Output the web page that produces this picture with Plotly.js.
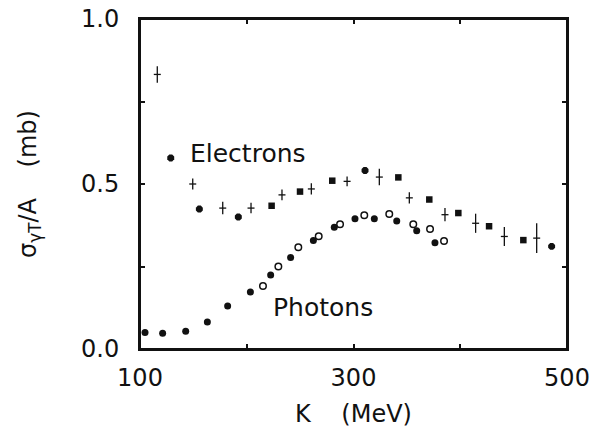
<!DOCTYPE html>
<html>
<head>
<meta charset="utf-8">
<script src="https://cdn.plot.ly/plotly-3.0.1.min.js"></script>
<style>
  html, body { margin: 0; padding: 0; background: #fff; }
  #chart { width: 607px; height: 428px; }
</style>
</head>
<body>
<div id="chart"></div>
<script>
// Total photoabsorption cross section per nucleon vs photon energy K

// Photon data, filled circles
const photonFilledK = [104.7, 121.2, 142.8, 163.1, 182.1, 203.4, 222.4, 241.1, 262.4, 282.0, 301.4, 319.5, 340.5, 359.2, 376.3];
const photonFilledY = [0.050, 0.048, 0.054, 0.082, 0.130, 0.173, 0.224, 0.277, 0.329, 0.369, 0.395, 0.395, 0.388, 0.358, 0.322];

// Photon data, open circles
const photonOpenK = [215.2, 229.6, 248.3, 267.4, 287.4, 310.1, 333.5, 356.0, 371.7, 384.8];
const photonOpenY = [0.191, 0.250, 0.308, 0.342, 0.378, 0.405, 0.409, 0.378, 0.364, 0.327];

// Electron data, filled squares
const electronSqK = [223.3, 249.9, 280.1, 342.0, 371.0, 398.2, 427.0, 459.1];
const electronSqY = [0.434, 0.477, 0.510, 0.520, 0.453, 0.412, 0.372, 0.330];

// Electron data, filled octagons
const electronOctK = [155.6, 192.1, 310.8, 485.6];
const electronOctY = [0.424, 0.400, 0.541, 0.311];

// Electron data with error bars
const electronErrK = [116.2, 149.4, 177.5, 204.0, 233.0, 260.5, 294.0, 324.2, 352.3, 385.7, 414.4, 441.3, 471.6];
const electronErrY = [0.832, 0.500, 0.427, 0.427, 0.467, 0.485, 0.508, 0.521, 0.458, 0.407, 0.381, 0.341, 0.336];
const electronErr  = [0.025, 0.017, 0.019, 0.016, 0.016, 0.017, 0.015, 0.025, 0.017, 0.020, 0.029, 0.029, 0.045];

// Key symbol next to the "Electrons" label
const electronKeyK = [128.8];
const electronKeyY = [0.579];

// Axis ticks
const xTickVals = [100, 200, 300, 400, 500];
const xTickText = ['100', '', '300', '', '500'];
const yTickVals = [0, 0.25, 0.5, 0.75, 1.0];
const yTickText = ['0.0', '', '0.5', '', '1.0'];

const ink = '#111111';
const FONT = 'DejaVu Sans, sans-serif';

const traces = [
  {
    x: photonFilledK, y: photonFilledY, type: 'scatter', mode: 'markers',
    marker: { symbol: 'circle', size: 7, color: ink, line: { width: 0 } }
  },
  {
    x: photonOpenK, y: photonOpenY, type: 'scatter', mode: 'markers',
    marker: { symbol: 'circle-open', size: 6.5, color: ink, line: { width: 1.5, color: ink } }
  },
  {
    x: electronSqK, y: electronSqY, type: 'scatter', mode: 'markers',
    marker: { symbol: 'square', size: 6.5, color: ink, line: { width: 0 } }
  },
  {
    x: electronOctK.concat(electronKeyK), y: electronOctY.concat(electronKeyY), type: 'scatter', mode: 'markers',
    marker: { symbol: 'octagon', size: 7.5, color: ink, line: { width: 0 } }
  },
  {
    x: electronErrK, y: electronErrY, type: 'scatter', mode: 'markers',
    marker: { symbol: 'line-ew', size: 5, color: ink, line: { width: 1.3, color: ink } },
    error_y: { type: 'data', array: electronErr, visible: true, width: 0, thickness: 1.3, color: ink }
  }
];

const axisCommon = {
  tickmode: 'array',
  ticks: 'inside', ticklen: 5, tickwidth: 1.5, tickcolor: ink,
  showline: true, linewidth: 2, linecolor: ink, mirror: 'ticks',
  showgrid: false, zeroline: false,
  tickfont: { family: FONT, size: 24, color: ink }
};

const layout = {
  width: 607, height: 428,
  margin: { l: 140, r: 40, t: 19, b: 79 },
  paper_bgcolor: '#ffffff', plot_bgcolor: '#ffffff',
  showlegend: false,
  font: { family: FONT, color: ink },
  xaxis: Object.assign({}, axisCommon, {
    range: [100, 500], tickvals: xTickVals, ticktext: xTickText,
    ticklabelstandoff: 6,
    title: { text: 'K\u00a0\u00a0\u00a0\u00a0(MeV)', font: { family: FONT, size: 24, color: ink }, standoff: 19 }
  }),
  yaxis: Object.assign({}, axisCommon, {
    range: [0, 1.0], tickvals: yTickVals, ticktext: yTickText,
    ticklabelstandoff: 14,
    title: { text: 'σ<sub>γT</sub>/A\u00a0\u00a0\u00a0\u00a0(mb)', font: { family: FONT, size: 24, color: ink }, standoff: 38 }
  }),
  shapes: [
    // plot frame
    { type: 'rect', xref: 'paper', yref: 'paper', x0: 0, x1: 1, y0: 0, y1: 1,
      line: { color: ink, width: 2 }, fillcolor: 'rgba(0,0,0,0)', layer: 'above' }
  ],
  annotations: [
    { x: 145, y: 0.592, xref: 'x', yref: 'y', xanchor: 'left', yanchor: 'middle',
      text: 'Electrons', showarrow: false, font: { family: FONT, size: 25, color: ink } },
    { x: 222.4, y: 0.127, xref: 'x', yref: 'y', xanchor: 'left', yanchor: 'middle',
      text: 'Photons', showarrow: false, font: { family: FONT, size: 25, color: ink } }
  ]
};

Plotly.newPlot('chart', traces, layout, { displayModeBar: false });
</script>
</body>
</html>
